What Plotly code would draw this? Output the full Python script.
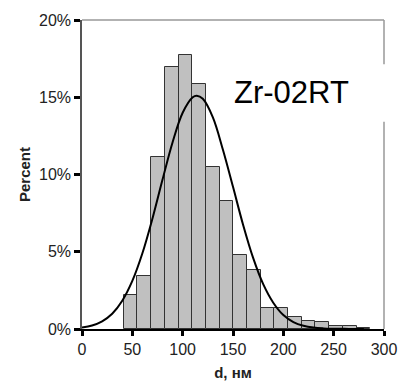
import plotly.graph_objects as go

# Histogram bins (centres, nm) and percentages
bin_centers = [48.3, 61.9, 75.5, 89.1, 102.7, 116.3, 129.9, 143.5, 157.1, 170.7,
               184.3, 197.9, 211.5, 225.1, 238.7, 252.3, 265.9, 279.5]
bin_width = 13.6
percent = [2.23, 3.45, 11.16, 16.96, 17.73, 15.87, 10.48, 8.31, 4.79, 3.84,
           1.38, 1.34, 0.79, 0.52, 0.43, 0.19, 0.17, 0.08]

# Fitted curve
curve_x = [0, 10, 20, 30, 40, 50, 60, 70, 80, 90, 100, 110, 114, 120, 130, 140, 150,
           160, 170, 180, 190, 200, 210, 220, 230, 240, 250, 260, 270, 280]
curve_y = [0.10, 0.23, 0.50, 0.99, 1.83, 3.11, 4.90, 7.15, 9.67, 12.09, 14.0, 15.0, 15.1,
           14.9, 13.7, 11.6, 9.2, 6.75, 4.6, 2.9, 1.7, 0.9, 0.45, 0.21, 0.09, 0.04,
           0.02, 0.01, 0.0, 0.0]

x_ticks = [0, 50, 100, 150, 200, 250, 300]
y_ticks = [0, 5, 10, 15, 20]
y_tick_labels = ["0%", "5%", "10%", "15%", "20%"]
label_text = "Zr-02RT"

FONT = "Liberation Sans, Arial, sans-serif"

fig = go.Figure()
fig.add_trace(go.Bar(
    x=bin_centers, y=percent, width=bin_width,
    marker=dict(color="#c0c0c0", line=dict(color="#333333", width=1)),
    showlegend=False,
))
fig.add_trace(go.Scatter(
    x=curve_x, y=curve_y, mode="lines",
    line=dict(color="black", width=2, shape="spline"),
    showlegend=False,
))

# top and right frame (grey)
fig.add_shape(type="line", xref="paper", yref="paper", x0=0, x1=1, y0=1, y1=1,
              line=dict(color="#999999", width=1.5))
fig.add_shape(type="line", xref="paper", yref="paper", x0=1, x1=1, y0=0, y1=1,
              line=dict(color="#999999", width=1.5))
# white box behind label
fig.add_shape(type="rect", xref="paper", yref="paper", x0=0.47, x1=1.03,
              y0=0.671, y1=0.857, fillcolor="white", line=dict(width=0), layer="above")

fig.add_annotation(x=208, y=15.29, xref="x", yref="y", text=label_text,
                   showarrow=False, font=dict(family=FONT, size=31, color="black"),
                   xanchor="center", yanchor="middle")

fig.update_layout(
    width=409, height=391,
    margin=dict(l=82, r=21, t=16, b=53),
    plot_bgcolor="white", paper_bgcolor="white",
    bargap=0,
    font=dict(family=FONT, size=16, color="#222222"),
    xaxis=dict(range=[0, 300], tickvals=x_ticks, showgrid=False, zeroline=False,
               showline=True, linecolor="black", linewidth=2,
               ticks="outside", ticklen=5, tickwidth=2.5, tickcolor="black",
               title=dict(text="<b>d, нм</b>", font=dict(size=15, color="#222222"), standoff=10)),
    yaxis=dict(range=[0, 20], tickvals=y_ticks, ticktext=y_tick_labels, showgrid=False,
               zeroline=False, showline=True, linecolor="#555555", linewidth=1.5,
               ticks="outside", ticklen=6, tickwidth=2.5, tickcolor="black",
               title=dict(text="<b>Percent</b>", font=dict(size=15, color="#222222"), standoff=5)),
)

fig.write_html("out.html")
